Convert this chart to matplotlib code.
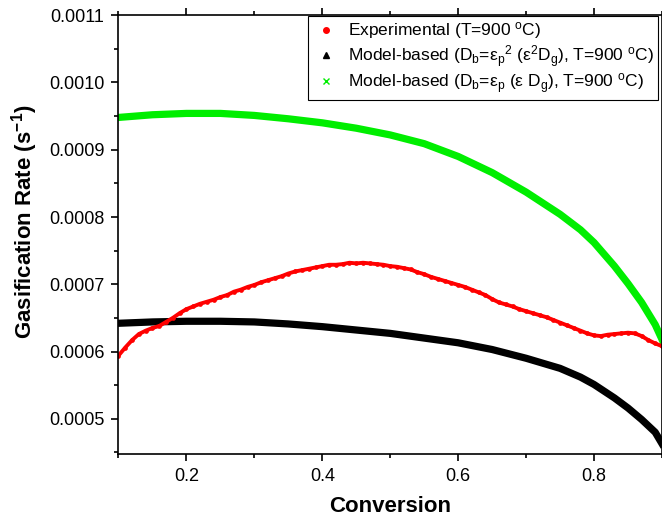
import matplotlib
matplotlib.use('Agg')
import matplotlib.pyplot as plt
from matplotlib.lines import Line2D
from matplotlib.ticker import MultipleLocator, FormatStrFormatter

plt.rcParams['font.family'] = ['Liberation Sans', 'DejaVu Sans']
plt.rcParams['mathtext.fontset'] = 'custom'
plt.rcParams['mathtext.rm'] = 'Liberation Sans'
plt.rcParams['mathtext.it'] = 'Liberation Sans'
plt.rcParams['mathtext.bf'] = 'Liberation Sans:bold'

# Experimental data (conversion, rate)
exp_conv = [0.10, 0.11, 0.12, 0.13, 0.14, 0.15, 0.16, 0.17, 0.18, 0.19,
            0.20, 0.21, 0.22, 0.23, 0.24, 0.25, 0.26, 0.27, 0.28, 0.29,
            0.30, 0.31, 0.32, 0.33, 0.34, 0.35, 0.36, 0.37, 0.38, 0.39,
            0.40, 0.41, 0.42, 0.43, 0.44, 0.45, 0.46, 0.47, 0.48, 0.49,
            0.50, 0.51, 0.52, 0.53, 0.54, 0.55, 0.56, 0.57, 0.58, 0.59,
            0.60, 0.61, 0.62, 0.63, 0.64, 0.65, 0.66, 0.67, 0.68, 0.69,
            0.70, 0.71, 0.72, 0.73, 0.74, 0.75, 0.76, 0.77, 0.78, 0.79,
            0.80, 0.81, 0.82, 0.83, 0.84, 0.85, 0.86, 0.87, 0.88, 0.89, 0.90]
exp_rate = [0.000594, 0.000606, 0.000617, 0.000626, 0.000631, 0.000635, 0.000638, 0.000644, 0.000650, 0.000657,
            0.000663, 0.000667, 0.000671, 0.000674, 0.000677, 0.000681, 0.000684, 0.000689, 0.000692, 0.000696,
            0.000699, 0.000703, 0.000706, 0.000709, 0.000712, 0.000716, 0.000719, 0.000721, 0.000723, 0.000725,
            0.000727, 0.000729, 0.000729, 0.000730, 0.000732, 0.000731, 0.000732, 0.000731, 0.000730, 0.000729,
            0.000727, 0.000726, 0.000724, 0.000722, 0.000718, 0.000715, 0.000711, 0.000708, 0.000705, 0.000702,
            0.000699, 0.000696, 0.000692, 0.000688, 0.000684, 0.000678, 0.000673, 0.000670, 0.000667, 0.000663,
            0.000660, 0.000657, 0.000654, 0.000651, 0.000647, 0.000643, 0.000639, 0.000635, 0.000631, 0.000627,
            0.000624, 0.000623, 0.000625, 0.000626, 0.000627, 0.000628, 0.000627, 0.000623, 0.000617, 0.000612, 0.000608]

# Model curves
model_conv = [0.10, 0.15, 0.20, 0.25, 0.30, 0.35, 0.40, 0.45, 0.50, 0.55,
              0.60, 0.65, 0.70, 0.75, 0.78, 0.80, 0.83, 0.85, 0.87, 0.89, 0.90]
model_eps2 = [0.000642, 0.000644, 0.000645, 0.000645, 0.000644, 0.000641, 0.000637, 0.000632, 0.000627, 0.000620,
              0.000613, 0.000603, 0.000590, 0.000575, 0.000562, 0.000551, 0.000531, 0.000516, 0.000499, 0.000480, 0.000463]
model_eps = [0.000948, 0.000952, 0.000954, 0.000954, 0.000951, 0.000946, 0.000940, 0.000932, 0.000922, 0.000909,
             0.000890, 0.000866, 0.000837, 0.000804, 0.000781, 0.000762, 0.000727, 0.000701, 0.000673, 0.000640, 0.000618]

labels = ['Experimental (T=900 $\\mathregular{^oC}$)',
          'Model-based (D$\\mathregular{_b}$=ε$\\mathregular{_p}$$\\mathregular{^2}$ (ε$\\mathregular{^2}$D$\\mathregular{_g}$), T=900 $\\mathregular{^oC}$)',
          'Model-based (D$\\mathregular{_b}$=ε$\\mathregular{_p}$ (ε D$\\mathregular{_g}$), T=900 $\\mathregular{^oC}$)']

fig = plt.figure(figsize=(6.62, 5.24), dpi=100)
ax = fig.add_axes([0.179, 0.134, 0.821, 0.837])

ax.plot(model_conv, model_eps, color='#00ee00', lw=5.2, solid_joinstyle='round')
ax.plot(model_conv, model_eps2, color='black', lw=5.2, solid_joinstyle='round')
ax.plot(exp_conv, exp_rate, color='red', lw=2.8, marker='o', ms=3.4, mew=0)

ax.set_xlim(0.1, 0.9)
ax.set_ylim(0.000448, 0.0011)
ax.xaxis.set_major_locator(MultipleLocator(0.2))
ax.xaxis.set_minor_locator(MultipleLocator(0.1))
ax.yaxis.set_major_locator(MultipleLocator(0.0001))
ax.yaxis.set_minor_locator(MultipleLocator(0.00005))
ax.yaxis.set_major_formatter(FormatStrFormatter('%.4f'))
ax.xaxis.set_major_formatter(FormatStrFormatter('%.1f'))
ax.tick_params(which='both', direction='out', top=True, right=False, labelsize=13, width=1.2)
ax.tick_params(which='major', length=5, pad=5)
ax.tick_params(which='minor', length=3)
for s in ax.spines.values():
    s.set_linewidth(1.2)

ax.set_xlabel('Conversion', fontsize=16, fontweight='bold', labelpad=8)
ax.set_ylabel('Gasification Rate (s$\\mathbf{^{-1}}$)', fontsize=16, fontweight='bold')
ax.yaxis.set_label_coords(-0.145, 0.53)

handles = [Line2D([], [], color='red', marker='o', ls='none', ms=4),
           Line2D([], [], color='black', marker='^', ls='none', ms=4),
           Line2D([], [], color='#00ee00', marker='x', ls='none', ms=4)]
leg = ax.legend(handles, labels, loc='upper right', fontsize=12.5, fancybox=False,
                edgecolor='black', framealpha=1, borderaxespad=0,
                bbox_to_anchor=(658 / 662, 1 - 16 / 524), bbox_transform=fig.transFigure,
                handlelength=1.6, handletextpad=0.45, labelspacing=0.1, borderpad=0.25)
leg.get_frame().set_linewidth(0.8)

fig.savefig('out.png', dpi=100)
